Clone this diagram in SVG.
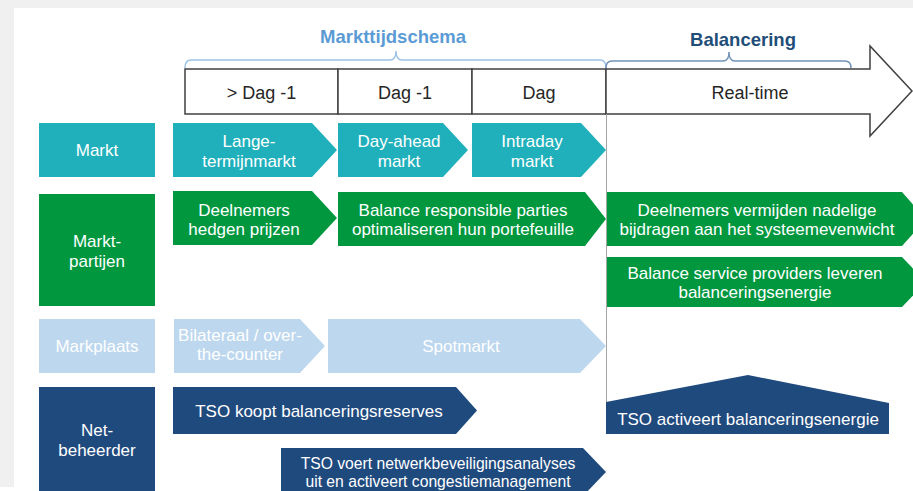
<svg xmlns="http://www.w3.org/2000/svg" width="913" height="491" viewBox="0 0 913 491">
<style>
text{font-family:"Liberation Sans",Arial,sans-serif;text-anchor:middle}
.w{fill:#ffffff;font-size:17px}
.tl{fill:#262626;font-size:18px}
.teal{fill:#20b0bb}
.green{fill:#00973f}
.lb{fill:#bdd7ee}
.navy{fill:#1f4a7e}
.box{fill:#ffffff;stroke:#404040;stroke-width:1.5}
</style>
<rect x="0" y="0" width="913" height="491" fill="#f0f0f0"/>
<rect x="14" y="8" width="899" height="483" fill="#ffffff"/>
<rect x="0" y="487" width="14" height="4" fill="#ffffff"/>

<g id="header">
<text x="393" y="43" style="font-size:18.5px;font-weight:bold;fill:#5b9bd5">Markttijdschema</text>
<path d="M185,68 Q185,60 191,60 L390,60 Q396,60 396,51 Q396,60 402,60 L600,60 Q606,60 606,68" fill="none" stroke="#9dc3e6" stroke-width="1.5"/>
<text x="743" y="46" style="font-size:18.5px;font-weight:bold;fill:#1f4e79">Balancering</text>
<path d="M606,68 Q606,61 612,61 L723,61 Q729,61 729,52 Q729,61 735,61 L845,61 Q851,61 851,68" fill="none" stroke="#7393b8" stroke-width="1.5"/>
</g>

<g id="timeline">
<rect class="box" x="185" y="69" width="153" height="45"/>
<rect class="box" x="338" y="69" width="134" height="45"/>
<rect class="box" x="472" y="69" width="134" height="45"/>
<polygon class="box" points="606,69 870,69 870,46 912,91 870,136 870,114 606,114"/>
<text class="tl" x="261.5" y="99">&gt; Dag -1</text>
<text class="tl" x="405" y="99">Dag -1</text>
<text class="tl" x="539" y="99">Dag</text>
<text class="tl" x="750" y="99">Real-time</text>
</g>

<g id="connectors">
<line x1="606.5" y1="114" x2="606.5" y2="403" stroke="#a6a6a6" stroke-width="1"/>
</g>

<g id="row-markt">
<rect class="teal" x="39" y="123" width="116" height="54"/>
<text class="w" x="97" y="156">Markt</text>
<polygon class="teal" points="173,123 312,123 337,150 312,177 173,177"/>
<text class="w" x="249" y="147">Lange-</text>
<text class="w" x="249" y="167">termijnmarkt</text>
<polygon class="teal" points="338,123 443,123 468,150 443,177 338,177"/>
<text class="w" x="399" y="147">Day-ahead</text>
<text class="w" x="399" y="167">markt</text>
<polygon class="teal" points="472,123 581,123 606,150 581,177 472,177"/>
<text class="w" x="532" y="147">Intraday</text>
<text class="w" x="532" y="167">markt</text>
</g>

<g id="row-marktpartijen">
<rect class="green" x="39" y="194" width="116" height="112"/>
<text class="w" x="97" y="247">Markt-</text>
<text class="w" x="97" y="267">partijen</text>
<polygon class="green" points="173,191 312,191 337,218 312,245 173,245"/>
<text class="w" x="244" y="216">Deelnemers</text>
<text class="w" x="244" y="235">hedgen prijzen</text>
<polygon class="green" points="338,192 585,192 606,219 585,246 338,246"/>
<text class="w" x="463" y="216">Balance responsible parties</text>
<text class="w" x="463" y="235">optimaliseren hun portefeuille</text>
<polygon class="green" points="607,192 902,192 926,219 902,246 607,246"/>
<text class="w" x="757" y="216">Deelnemers vermijden nadelige</text>
<text class="w" x="757" y="235">bijdragen aan het systeemevenwicht</text>
<polygon class="green" points="607,257 902,257 926,282 902,307 607,307"/>
<text class="w" x="755" y="279">Balance service providers leveren</text>
<text class="w" x="755" y="297.5">balanceringsenergie</text>
</g>

<g id="row-markplaats">
<rect class="lb" x="39" y="319" width="116" height="54"/>
<text class="w" x="97" y="352">Markplaats</text>
<polygon class="lb" points="174,319 300,319 325,346 300,373 174,373"/>
<text class="w" x="240" y="341">Bilateraal / over-</text>
<text class="w" x="240" y="360">the-counter</text>
<polygon class="lb" points="328,319 580,319 606,346 580,373 328,373"/>
<text class="w" x="461" y="352">Spotmarkt</text>
</g>

<g id="row-netbeheerder">
<rect class="navy" x="39" y="387" width="116" height="110"/>
<text class="w" x="97" y="436">Net-</text>
<text class="w" x="97" y="456">beheerder</text>
<polygon class="navy" points="173,387 456,387 477,410.5 456,434 173,434"/>
<text class="w" x="319" y="417">TSO koopt balanceringsreserves</text>
<polygon class="navy" points="281,448 583,448 606,472 583,496 281,496"/>
<text class="w" x="438" y="468.5" style="font-size:15.7px">TSO voert netwerkbeveiligingsanalyses</text>
<text class="w" x="438" y="487" style="font-size:15.7px">uit en activeert congestiemanagement</text>
<polygon class="navy" points="606,434 606,402 748,375 889,403 889,434"/>
<text class="w" x="748" y="425">TSO activeert balanceringsenergie</text>
</g>
</svg>
